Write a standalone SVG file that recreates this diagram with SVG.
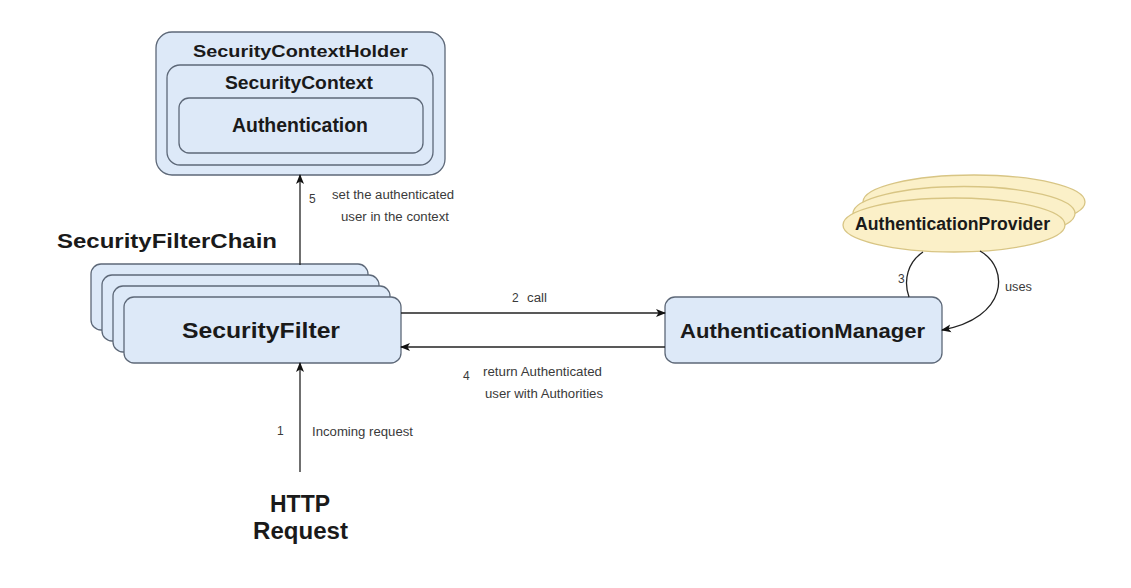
<svg xmlns="http://www.w3.org/2000/svg" width="1131" height="588" viewBox="0 0 1131 588">
<defs>
<style>
.box{fill:#dde9f8;stroke:#5d6878;stroke-width:1.3}
.ell{fill:#fbf0c8;stroke:#d8c584;stroke-width:1.3}
.t{font-family:"Liberation Sans",Arial,sans-serif;font-weight:bold;fill:#1a1a1a}
.s{font-family:"Liberation Sans",Arial,sans-serif;font-size:12px;fill:#3a3a3a}
.e{fill:none;stroke:#222;stroke-width:1.3}
</style>
<marker id="ah" viewBox="0 0 10 10" refX="9" refY="5" markerWidth="10" markerHeight="10" markerUnits="userSpaceOnUse" orient="auto">
<path d="M0,1 L10,5 L0,9 L2.5,5 Z" fill="#111"/>
</marker>
</defs>
<rect width="1131" height="588" fill="#fff"/>

<g id="holder">
<rect class="box" x="156" y="32" width="289" height="143" rx="16"/>
<text class="t" x="300.5" y="57" font-size="17" text-anchor="middle" textLength="215" lengthAdjust="spacingAndGlyphs">SecurityContextHolder</text>
</g>
<g id="context">
<rect class="box" x="167" y="65" width="266" height="100" rx="13"/>
<text class="t" x="299" y="89" font-size="17.5" text-anchor="middle" textLength="148" lengthAdjust="spacingAndGlyphs">SecurityContext</text>
</g>
<g id="authentication">
<rect class="box" x="179" y="98" width="244" height="55" rx="10"/>
<text class="t" x="300" y="132" font-size="19.5" text-anchor="middle" textLength="136" lengthAdjust="spacingAndGlyphs">Authentication</text>
</g>

<g id="chainlabel">
<text class="t" x="57" y="248" font-size="20" textLength="220" lengthAdjust="spacingAndGlyphs">SecurityFilterChain</text>
</g>
<g id="securityfilter">
<rect class="box" x="91" y="264" width="277" height="66" rx="10"/>
<rect class="box" x="102" y="275" width="277" height="66" rx="10"/>
<rect class="box" x="113" y="286" width="277" height="66" rx="10"/>
<rect class="box" x="124" y="297" width="277" height="66" rx="10"/>
<text class="t" x="182" y="338" font-size="22" textLength="158" lengthAdjust="spacingAndGlyphs">SecurityFilter</text>
</g>

<g id="manager">
<rect class="box" x="665" y="297" width="277" height="66" rx="10"/>
<text class="t" x="680" y="338" font-size="21" textLength="245" lengthAdjust="spacingAndGlyphs">AuthenticationManager</text>
</g>

<g id="provider">
<ellipse class="ell" cx="974" cy="202" rx="111" ry="27"/>
<ellipse class="ell" cx="964" cy="213.5" rx="111" ry="27"/>
<ellipse class="ell" cx="954" cy="225" rx="111" ry="27"/>
<text class="t" x="855" y="230" font-size="18" textLength="195" lengthAdjust="spacingAndGlyphs">AuthenticationProvider</text>
</g>

<g id="http">
<text class="t" x="300" y="512" font-size="23" text-anchor="middle" textLength="60" lengthAdjust="spacingAndGlyphs">HTTP</text>
<text class="t" x="300.5" y="539" font-size="23" text-anchor="middle" textLength="95" lengthAdjust="spacingAndGlyphs">Request</text>
</g>

<g id="connectors">
<path class="e" d="M300,265 L300,175" marker-end="url(#ah)"/>
<path class="e" d="M401,313 L665,313" marker-end="url(#ah)"/>
<path class="e" d="M665,347 L401,347" marker-end="url(#ah)"/>
<path class="e" d="M300,472 L300,363" marker-end="url(#ah)"/>
<path class="e" d="M909,297 C903,280 908,262 923,252"/>
<path class="e" d="M980,251 C1010,268 1008,318 942,330" marker-end="url(#ah)"/>
<text class="s" x="309" y="203">5</text>
<text class="s" x="332" y="199" textLength="122" lengthAdjust="spacingAndGlyphs">set the authenticated</text>
<text class="s" x="341" y="221" textLength="108" lengthAdjust="spacingAndGlyphs">user in the context</text>
<text class="s" x="512" y="302">2</text>
<text class="s" x="527" y="302" textLength="20" lengthAdjust="spacingAndGlyphs">call</text>
<text class="s" x="463" y="380">4</text>
<text class="s" x="483" y="376" textLength="119" lengthAdjust="spacingAndGlyphs">return Authenticated</text>
<text class="s" x="485" y="398" textLength="118" lengthAdjust="spacingAndGlyphs">user with Authorities</text>
<text class="s" x="277" y="435">1</text>
<text class="s" x="312" y="436" textLength="101" lengthAdjust="spacingAndGlyphs">Incoming request</text>
<text class="s" x="898" y="283">3</text>
<text class="s" x="1005" y="291" textLength="27" lengthAdjust="spacingAndGlyphs">uses</text>
</g>
</svg>
